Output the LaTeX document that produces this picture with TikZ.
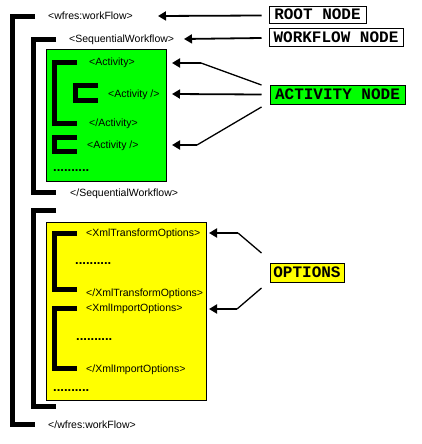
\documentclass[tikz,border=0pt]{standalone}
\usepackage{fontspec}
\setmainfont{Liberation Sans}
\newfontfamily\lblfont{Liberation Mono}
\usetikzlibrary{arrows.meta}
\definecolor{actgreen}{RGB}{0,255,0}
\definecolor{optyellow}{RGB}{255,255,0}
\begin{document}
\begin{tikzpicture}[x=1pt,y=-1pt,
  bar/.style={line width=5pt,line join=miter},
  tag/.style={anchor=west,inner sep=0pt,text height=7.6pt,text depth=0pt,font=\fontsize{10.5}{12}\selectfont},
  dots/.style={anchor=base west,inner sep=0pt,font=\fontsize{13}{14}\selectfont\bfseries},
  lbl/.style={draw,line width=1pt,inner sep=0pt,text height=9pt,text depth=0pt,font=\fontsize{16}{18}\selectfont\lblfont\bfseries},
  arr/.style={line width=1.8pt,-{Triangle[length=8pt,width=9pt]}},
  thinarr/.style={line width=1.3pt},
  boxframe/.style={draw,line width=1pt}]
\useasboundingbox (0,0) rectangle (422,444);
% containers
\path[boxframe,fill=actgreen] (46,50) rectangle (166,181);
\path[boxframe,fill=optyellow] (46,222) rectangle (206,400);
% brackets
\draw[bar] (35,16.5) -| (12.5,424.5) -- (35,424.5);
\draw[bar] (56,39.5) -| (33.5,192.5) -- (56,192.5);
\draw[bar] (56,210.5) -| (33.5,406.5) -- (56,406.5);
\draw[bar] (77,62.5) -| (54.5,123.5) -- (77,123.5);
\draw[bar] (98,85.5) -| (75.5,100) -- (98,100);
\draw[bar] (77,137.5) -| (54.5,151.5) -- (77,151.5);
\draw[bar] (77,233.5) -| (54.5,289.5) -- (77,289.5);
\draw[bar] (77,308.5) -| (54.5,368) -- (77,368);
% tags
\node[tag] (wfopen) at (48,16) {<wfres:workFlow>};
\node[tag] (seqopen) at (69,39) {<SequentialWorkflow>};
\node[tag] (actopen) at (89,62) {<Activity>};
\node[tag] (actinner) at (108,94) {<Activity />};
\node[tag] (actclose) at (89,123) {</Activity>};
\node[tag] (actsingle) at (87,145) {<Activity />};
\node[dots] (dots1) at (53,171) {..........};
\node[tag] (seqclose) at (70,193) {</SequentialWorkflow>};
\node[tag] (xtopen) at (86,233) {<XmlTransformOptions>};
\node[dots] (dots2) at (75,264) {..........};
\node[tag] (xtclose) at (86,293) {</XmlTransformOptions>};
\node[tag] (xiopen) at (86,308) {<XmlImportOptions>};
\node[dots] (dots3) at (76,340) {..........};
\node[tag] (xiclose) at (86,369) {</XmlImportOptions>};
\node[dots] (dots4) at (53,391) {..........};
\node[tag] (wfclose) at (48,425) {</wfres:workFlow>};
% labels
\node[lbl,fill=white,minimum width=97pt,minimum height=17pt] (rootlbl) at (317.5,15.5) {ROOT NODE};
\node[lbl,fill=white,minimum width=134pt,minimum height=18pt] (wflbl) at (336,38) {WORKFLOW NODE};
\node[lbl,fill=actgreen,minimum width=135pt,minimum height=19pt] (actlbl) at (337.5,94.5) {ACTIVITY NODE};
\node[lbl,fill=optyellow,minimum width=74pt,minimum height=19pt] (optlbl) at (307,272.5) {OPTIONS};
% arrow tips and bends
\coordinate (tRoot) at (158,16);
\coordinate (tWf) at (184,39);
\coordinate (tA1) at (172,63);
\coordinate (bA1) at (201,63);
\coordinate (tA2) at (172,94);
\coordinate (tA3) at (172,145);
\coordinate (bA3) at (197,145);
\coordinate (tO1) at (209,233);
\coordinate (bO1) at (238,233);
\coordinate (tO2) at (209,309);
\coordinate (bO2) at (237,309);
% arrows
\draw[arr] ([xshift=-7pt]rootlbl.west) -- (tRoot);
\draw[arr] ([xshift=-7pt]wflbl.west) -- (tWf);
\draw[thinarr] ([xshift=-8pt,yshift=9.5pt]actlbl.west) -- (bA1);
\draw[arr] (bA1) -- (tA1);
\draw[arr] ([xshift=-8pt]actlbl.west) -- (tA2);
\draw[thinarr] ([xshift=-8pt,yshift=-12.5pt]actlbl.west) -- (bA3);
\draw[arr] (bA3) -- (tA3);
\draw[thinarr] ([xshift=-8pt,yshift=19.5pt]optlbl.west) -- (bO1);
\draw[arr] (bO1) -- (tO1);
\draw[thinarr] ([xshift=-8pt,yshift=-15.5pt]optlbl.west) -- (bO2);
\draw[arr] (bO2) -- (tO2);
\end{tikzpicture}
\end{document}
